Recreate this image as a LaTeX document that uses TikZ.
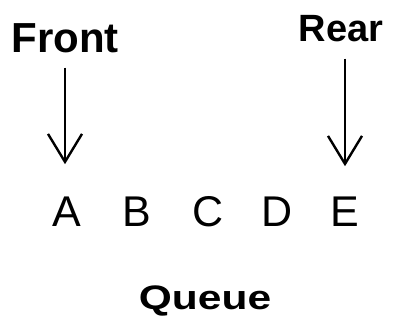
\documentclass[tikz,border=0pt]{standalone}
\usepackage{fontspec}
\setmainfont{Liberation Sans}
\usetikzlibrary{arrows.meta}

\begin{document}
\begin{tikzpicture}[x=1pt,y=-1pt,
  label/.style={inner sep=0pt,anchor=base,font=\fontsize{42}{42}\selectfont\bfseries},
  item/.style={inner sep=0pt,anchor=base,font=\fontsize{43}{43}\selectfont},
  pointer/.style={draw=black,line width=2.4pt,-{Straight Barb[length=28pt,width=34pt,line width=2.4pt]}}]
\useasboundingbox (0,0) rectangle (399,320);
\node[label] (front) at (65,53) {Front};
\node[label,font=\fontsize{38}{38}\selectfont\bfseries] (rear) at (341,42) {Rear};
\node[item] (a) at (67,227) {A};
\node[item] (b) at (137,227) {B};
\node[item] (c) at (208,227) {C};
\node[item] (d) at (277,227) {D};
\node[item] (e) at (345,227) {E};
\node[label,font=\fontsize{34}{34}\selectfont\bfseries,xscale=1.25,transform shape] (queue) at (205,310) {Queue};
\draw[pointer,shorten <=14pt,shorten >=33pt] (front.south) -- (front.south |- a.north);
\draw[pointer,shorten <=16pt,shorten >=31pt] (e.north |- rear.south) -- (e.north);
\end{tikzpicture}
\end{document}
